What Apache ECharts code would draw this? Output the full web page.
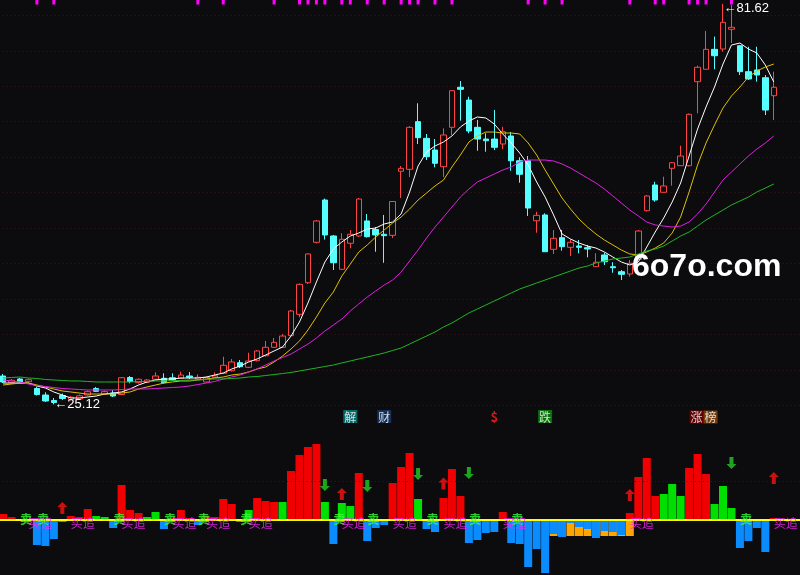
<!DOCTYPE html>
<html>
<head>
<meta charset="utf-8">
<script src="https://cdn.jsdelivr.net/npm/echarts/dist/echarts.min.js"></script>
<style>
html, body { margin: 0; padding: 0; background: #0c0c0f; }
#main { width: 800px; height: 575px; }
</style>
</head>
<body>
<div id="main"></div>
<script>
// 日K 开 收 低 高
var opens = [29.13,28.24,28.71,28.33,27.37,26.45,25.68,26.38,25.82,25.89,
 26.45,27.37,26.59,26.73,26.52,28.92,28.19,28.24,28.67,28.81,
 28.89,28.81,29.13,28.67,28.29,28.95,29.51,29.88,31.01,30.36,
 31.29,31.99,33.18,33.18,34.82,37.83,42.29,47.99,53.95,48.88,
 44.18,47.85,48.88,51.00,49.79,49.12,48.97,58.00,58.28,65.00,
 62.65,61.00,58.65,64.20,69.85,68.05,64.20,62.55,62.55,61.85,
 62.98,59.49,59.49,51.03,51.84,47.00,48.64,47.28,47.47,47.23,
 44.55,46.20,44.55,43.84,43.52,45.59,52.44,56.07,55.04,58.42,
 58.79,58.79,70.64,72.39,75.20,75.25,78.03,75.71,72.05,72.29,
 71.20,68.66];
var closes = [28.29,28.53,28.29,28.61,26.52,25.61,25.39,25.96,26.14,26.34,
 26.92,26.97,26.92,26.31,28.89,28.36,28.67,28.57,29.13,28.19,
 28.57,29.27,28.95,28.95,28.92,29.17,30.64,31.11,30.44,31.25,
 32.66,33.18,33.88,34.77,38.30,42.06,46.34,51.00,49.02,45.11,
 48.41,49.12,54.09,48.78,49.02,48.92,53.74,58.42,64.20,62.74,
 60.06,59.13,63.12,69.37,69.56,63.68,62.55,62.31,61.38,63.58,
 59.49,57.58,52.82,51.79,46.66,48.55,47.37,47.99,47.28,47.04,
 45.17,45.25,44.40,43.47,45.03,49.58,54.52,53.95,55.93,59.21,
 60.16,66.04,72.67,75.20,74.30,79.01,78.31,72.05,71.02,71.58,
 66.64,69.85];
var lows = [28.14,28.10,28.14,28.22,26.38,25.47,25.12,25.75,25.68,25.82,
 26.38,26.88,26.52,26.17,26.45,28.10,28.07,28.14,28.64,28.07,
 28.43,28.78,28.71,28.57,28.22,28.85,29.41,29.77,30.26,30.26,
 31.18,31.88,33.08,33.08,34.70,37.41,42.11,47.82,48.38,44.08,
 44.08,47.14,48.73,48.66,46.66,45.11,48.59,54.23,57.20,61.85,
 59.59,58.56,57.20,63.12,65.14,63.36,60.90,60.76,61.00,61.14,
 58.08,56.39,51.70,49.34,46.62,46.34,46.80,46.05,46.44,45.87,
 44.55,44.79,43.70,42.67,43.14,45.49,52.33,53.71,55.04,55.97,
 58.75,58.68,66.18,72.39,72.39,74.87,76.09,71.58,70.88,70.64,
 65.94,65.23];
var highs = [29.41,28.71,28.85,28.78,27.62,26.83,26.03,26.66,26.31,26.52,
 27.09,27.58,27.09,27.16,28.99,29.13,28.78,28.71,29.65,29.51,
 29.51,29.74,29.70,29.37,29.06,29.65,31.85,31.53,31.39,32.42,
 32.80,34.07,34.49,35.05,38.44,42.18,46.41,51.13,54.16,49.02,
 49.26,49.72,54.23,51.98,50.14,51.84,53.81,58.75,64.39,67.59,
 63.26,62.55,64.06,69.39,70.73,68.52,65.23,63.36,66.64,64.29,
 63.54,59.97,60.16,52.30,52.08,49.72,49.72,48.41,48.31,47.61,
 46.44,46.52,45.17,44.08,45.49,49.72,54.66,56.53,57.24,59.31,
 61.61,66.15,72.90,77.79,77.00,81.62,81.45,75.81,75.57,75.57,
 71.58,72.05];

// 均线 (白 黄 紫 绿)
var ma5 = [28.14,28.14,28.14,28.14,27.72,27.44,26.88,26.45,26.03,26.03,
 26.17,26.31,26.59,26.73,26.88,27.30,27.86,28.29,28.57,28.71,
 28.71,28.85,28.85,28.85,28.99,29.27,29.55,30.12,30.54,31.11,
 31.53,32.09,32.66,33.22,34.77,36.75,39.43,42.39,45.21,47.04,
 48.03,48.87,49.30,49.86,50.00,50.57,50.85,51.98,55.08,58.75,
 60.72,61.57,62.13,62.98,64.25,65.09,65.66,65.52,64.67,63.26,
 61.99,60.58,58.89,56.49,54.37,51.84,49.16,48.45,47.89,47.46,
 47.18,46.62,45.91,45.21,44.79,45.21,47.32,49.44,51.41,53.67,
 56.35,60.16,63.96,67.07,69.89,73.13,75.81,76.09,75.25,74.68,
 72.99,70.59];
var ma10 = [27.86,28.00,28.14,28.14,27.86,27.58,27.30,27.02,26.88,26.73,
 26.59,26.59,26.59,26.59,26.73,26.88,27.30,27.58,27.86,28.14,
 28.29,28.43,28.43,28.57,28.71,28.85,28.99,29.27,29.41,29.70,
 30.12,30.40,31.11,31.95,32.94,34.07,35.62,37.45,39.43,40.98,
 43.23,44.92,46.62,47.61,48.73,49.72,50.71,51.55,52.68,53.95,
 54.94,55.93,56.77,58.61,60.30,62.13,62.98,63.54,63.54,63.40,
 63.40,63.26,61.99,60.30,58.18,56.21,54.23,52.68,51.27,50.14,
 49.16,48.31,47.61,46.90,46.34,46.20,46.62,47.18,47.89,49.30,
 51.55,55.08,58.89,61.99,64.53,66.93,68.62,69.89,71.30,72.14,
 72.71,73.13];
var ma30 = [28.57,28.43,28.29,28.00,27.79,27.65,27.51,27.37,27.30,27.23,
 27.16,27.16,27.16,27.16,27.23,27.30,27.30,27.30,27.37,27.44,
 27.51,27.58,27.72,27.93,28.14,28.36,28.71,28.99,29.27,29.70,
 30.12,30.68,31.25,31.74,32.23,32.94,33.64,34.49,35.48,36.32,
 37.17,38.30,39.29,40.27,41.12,41.96,42.67,43.80,45.35,46.90,
 48.59,50.14,51.55,52.96,54.37,55.50,56.49,57.05,57.62,58.18,
 58.61,59.31,59.59,59.59,59.59,59.45,59.03,58.46,57.76,57.05,
 56.35,55.50,54.52,53.53,52.54,51.70,50.85,50.43,50.28,50.14,
 50.28,50.85,51.98,53.39,55.08,56.77,57.90,59.03,60.16,61.14,
 61.99,62.98];
var ma60 = [28.85,28.92,28.99,28.85,28.78,28.64,28.57,28.50,28.43,28.43,
 28.36,28.29,28.29,28.29,28.29,28.29,28.36,28.36,28.43,28.43,
 28.50,28.50,28.57,28.57,28.64,28.71,28.71,28.78,28.85,28.99,
 29.06,29.20,29.34,29.48,29.63,29.84,30.05,30.26,30.47,30.68,
 30.97,31.25,31.53,31.81,32.09,32.38,32.73,33.08,33.64,34.21,
 34.77,35.34,36.04,36.61,37.31,38.02,38.58,39.14,39.71,40.27,
 40.84,41.40,41.82,42.25,42.67,43.09,43.52,43.94,44.36,44.64,
 45.07,45.35,45.63,45.77,45.91,46.34,46.76,47.04,47.46,48.17,
 48.87,49.44,50.28,51.13,51.84,52.54,53.25,53.81,54.37,55.08,
 55.64,56.21];

// 副图指标
var redBars = [6,3,null,null,null,null,null,null,4,3,
 11,null,null,null,35,10,7,null,null,null,
 2,10,2,null,4,3,21,16,null,null,
 22,19,18,null,49,65,73,76,null,null,
 null,null,47,null,null,null,37,53,67,null,
 null,null,22,51,24,null,null,null,null,8,
 null,null,null,null,null,null,null,null,null,null,
 null,null,null,null,7,43,62,24,null,null,
 null,52,66,46,null,null,null,null,null,null,
 null,2];
var greenBars = [null,null,null,null,null,null,null,null,null,null,
 null,4,3,null,null,null,null,3,8,null,
 null,null,null,null,null,null,null,null,null,10,
 null,null,null,18,null,null,null,null,18,null,
 17,14,null,null,null,null,null,null,null,21,
 null,null,null,null,null,null,null,null,null,null,
 null,null,null,null,null,null,null,null,null,null,
 null,null,null,null,null,null,null,null,26,36,
 24,null,null,null,16,34,12,null,null,null,
 null,null];
var blueBars = [null,null,null,null,-25,-26,-19,-2,null,null,
 null,null,null,-8,null,null,null,null,null,-9,
 null,null,null,-5,null,null,null,null,-2,null,
 null,null,null,null,null,null,null,null,null,-24,
 null,null,null,-21,-8,-5,null,null,null,null,
 -9,-12,null,null,null,-23,-20,-13,-12,null,
 -23,-24,-47,-29,-53,-14,-17,-3,-7,-9,
 -18,-11,-12,-15,null,null,null,null,null,null,
 null,null,null,null,null,null,null,-28,-21,-8,
 -32,null];
var orangeBars = [null,null,null,null,null,null,null,null,null,null,
 null,null,null,null,null,null,null,null,null,null,
 null,null,null,null,null,null,null,null,null,null,
 null,null,null,null,null,null,null,null,null,null,
 null,null,null,null,null,null,null,null,null,null,
 null,null,null,null,null,null,null,null,null,null,
 null,null,null,null,null,-16,-16,-16,-16,-16,
 -16,-16,-16,-16,-16,null,null,null,null,null,
 null,null,null,null,null,null,null,null,null,null,
 null,null];

// 信号
var sellIdx = [2,4,13,19,23,28,39,43,50,55,60,87];
var buyIdx = [3,8,14,20,24,29,40,46,52,59,74,91];
var upIdx = [7,40,52,74,91];
var upVal = [12,26,36.5,25,42];
var downIdx = [38,43,49,55,86];
var downVal = [35,34,46,47,57];
var topSignalIdx = [4,6,23,26,32,35,36,37,38,40,41,43,45,47,48,49,51,53,62,64,66,74,77,78,81,82,83,86];
var infoIdx = [41,45,58,64,82];
var infoText = ['解','财','$','跌','涨榜'];

var days = [];
for (var d = 1; d <= 95; d++) { days.push('D' + d); }

var kData = opens.map(function (o, i) { return [o, closes[i], lows[i], highs[i]]; });
var topSignal = days.map(function (_, i) { return topSignalIdx.indexOf(i) >= 0 ? 1 : null; });

var infoBg = { '解': '#0a8080', '财': '#16386a', '跌': '#0a8a0a' };
var infoData = infoIdx.map(function (idx, k) {
    var t = infoText[k];
    var item = { value: [idx, 0.5], name: t, label: {} };
    if (t === '$') {
        item.label = { color: '#ff2020', fontWeight: 'bold', fontSize: 13 };
    } else if (t === '涨榜') {
        item.label = { formatter: '{a|涨}{b|榜}', offset: [6, 0] };
    } else {
        item.label = { backgroundColor: infoBg[t] };
    }
    return item;
});

function grid(top, height) {
    return { left: -1.2, width: 804.65, top: top, height: height, outerBoundsMode: 'none' };
}
function hiddenX(i) {
    return { type: 'category', gridIndex: i, data: days, boundaryGap: true, show: false };
}

var chart = echarts.init(document.getElementById('main'));
var cjk = '"Noto Sans CJK SC", sans-serif';

chart.setOption({
    backgroundColor: '#0c0c0f',
    animation: false,
    grid: [grid(-20.15, 425.45), grid(424, 151), grid(0, 4.5), grid(409, 15)],
    xAxis: [
        hiddenX(0),
        {
            type: 'category', gridIndex: 1, data: days, boundaryGap: true, position: 'top',
            axisLine: { show: true, lineStyle: { color: '#800000', width: 1.5 } },
            axisTick: { show: false }, axisLabel: { show: false }, splitLine: { show: false }
        },
        hiddenX(2),
        hiddenX(3)
    ],
    yAxis: [
        {
            type: 'value', gridIndex: 0, min: 25, max: 85, interval: 5,
            axisLine: { show: false }, axisTick: { show: false }, axisLabel: { show: false },
            splitLine: { show: true, lineStyle: { color: '#6e0000', width: 1, type: [1, 3] } }
        },
        { type: 'value', gridIndex: 1, min: -55, max: 96, show: false, splitLine: { show: false } },
        { type: 'value', gridIndex: 2, min: 0, max: 1, show: false, splitLine: { show: false } },
        { type: 'value', gridIndex: 3, min: 0, max: 1, show: false, splitLine: { show: false } }
    ],
    series: [
        {
            name: 'K', type: 'candlestick', data: kData, barWidth: 6,
            itemStyle: { color: '#0c0c0f', color0: '#55ffff', borderColor: '#ff4444', borderColor0: '#55ffff', borderWidth: 1 },
            markPoint: {
                symbol: 'rect', symbolSize: 1, itemStyle: { color: 'rgba(0,0,0,0)' },
                label: {
                    show: true, position: 'right', distance: 0, color: '#ffffff', fontSize: 13,
                    fontFamily: '"Liberation Sans", sans-serif',
                    formatter: function (p) { return '←' + Number(p.value).toFixed(2); }
                },
                data: [
                    { type: 'max', valueDim: 'highest', label: { offset: [0, 5] } },
                    { type: 'min', valueDim: 'lowest' }
                ]
            }
        },
        { name: 'MA5', type: 'line', data: ma5, symbol: 'none', lineStyle: { color: '#ffffff', width: 1 } },
        { name: 'MA10', type: 'line', data: ma10, symbol: 'none', lineStyle: { color: '#e0c000', width: 1 } },
        { name: 'MA30', type: 'line', data: ma30, symbol: 'none', lineStyle: { color: '#e020e0', width: 1 } },
        { name: 'MA60', type: 'line', data: ma60, symbol: 'none', lineStyle: { color: '#22b422', width: 1 } },

        {
            name: 'orange', type: 'bar', xAxisIndex: 1, yAxisIndex: 1, data: orangeBars, barWidth: 8, barGap: '-100%', z: 1,
            itemStyle: { color: '#ffa500' },
            markLine: {
                silent: true, symbol: 'none', label: { show: false },
                data: [{ yAxis: 39, lineStyle: { color: '#6e0000', width: 1, type: [1, 3] } }]
            }
        },
        {
            name: 'blue', type: 'bar', xAxisIndex: 1, yAxisIndex: 1, data: blueBars, barWidth: 8, barGap: '-100%', z: 3,
            itemStyle: { color: '#0a8cff' },
            markLine: {
                silent: true, symbol: 'none', label: { show: false },
                data: [{ yAxis: 0, lineStyle: { color: '#ffff00', width: 2, type: 'solid' } }]
            }
        },
        { name: 'red', type: 'bar', xAxisIndex: 1, yAxisIndex: 1, data: redBars, barWidth: 8, barGap: '-100%', z: 2, itemStyle: { color: '#f00000' } },
        { name: 'green', type: 'bar', xAxisIndex: 1, yAxisIndex: 1, data: greenBars, barWidth: 8, barGap: '-100%', z: 2, itemStyle: { color: '#00e000' } },

        {
            name: 'sell', type: 'scatter', xAxisIndex: 1, yAxisIndex: 1, z: 5,
            data: sellIdx.map(function (i) { return [i, 0.5]; }),
            symbol: 'rect', symbolSize: 1, itemStyle: { color: 'rgba(0,0,0,0)' },
            label: { show: true, formatter: '卖', position: 'right', distance: -0.5, color: '#33ff33', fontSize: 12, fontWeight: 'bold', fontFamily: cjk }
        },
        {
            name: 'buy', type: 'scatter', xAxisIndex: 1, yAxisIndex: 1, z: 5,
            data: buyIdx.map(function (i) { return [i, -3.5]; }),
            symbol: 'rect', symbolSize: 1, itemStyle: { color: 'rgba(0,0,0,0)' },
            label: { show: true, formatter: '买追', position: 'right', distance: -0.5, color: '#ff22ff', fontSize: 12, fontFamily: cjk }
        },
        {
            name: 'up', type: 'scatter', xAxisIndex: 1, yAxisIndex: 1, z: 5,
            data: upIdx.map(function (i, k) { return [i, upVal[k]]; }),
            symbol: 'path://M5,0L10,5L7,5L7,12L3,12L3,5L0,5Z', symbolSize: [10, 12],
            itemStyle: { color: '#ff1010' }
        },
        {
            name: 'down', type: 'scatter', xAxisIndex: 1, yAxisIndex: 1, z: 5,
            data: downIdx.map(function (i, k) { return [i, downVal[k]]; }),
            symbol: 'path://M5,0L10,5L7,5L7,12L3,12L3,5L0,5Z', symbolSize: [10, 12], symbolRotate: 180,
            itemStyle: { color: '#22cc22' }
        },
        {
            name: 'signal', type: 'bar', xAxisIndex: 2, yAxisIndex: 2, data: topSignal, barWidth: 3,
            itemStyle: { color: '#ff00ff' }
        },
        {
            name: 'info', type: 'scatter', xAxisIndex: 3, yAxisIndex: 3, z: 5, data: infoData,
            symbol: 'rect', symbolSize: 1, itemStyle: { color: 'rgba(0,0,0,0)' },
            label: {
                show: true, position: 'inside', formatter: '{b}', color: '#ffffff', fontSize: 12,
                fontFamily: cjk, padding: [1, 1, 0, 1],
                rich: {
                    a: { backgroundColor: '#7a0000', color: '#ffffff', fontSize: 12, fontFamily: cjk, padding: [1, 1, 0, 1] },
                    b: { backgroundColor: '#8a4a10', color: '#ffffff', fontSize: 12, fontFamily: cjk, padding: [1, 1, 0, 1] }
                }
            }
        }
    ],
    graphic: [{
        type: 'text', left: 632, top: 251, z: 100,
        style: { text: '6o7o.com', fill: '#ffffff', font: 'bold 32px "Liberation Sans", sans-serif' }
    }]
});
window.addEventListener('resize', function () { chart.resize(); });
</script>
</body>
</html>
